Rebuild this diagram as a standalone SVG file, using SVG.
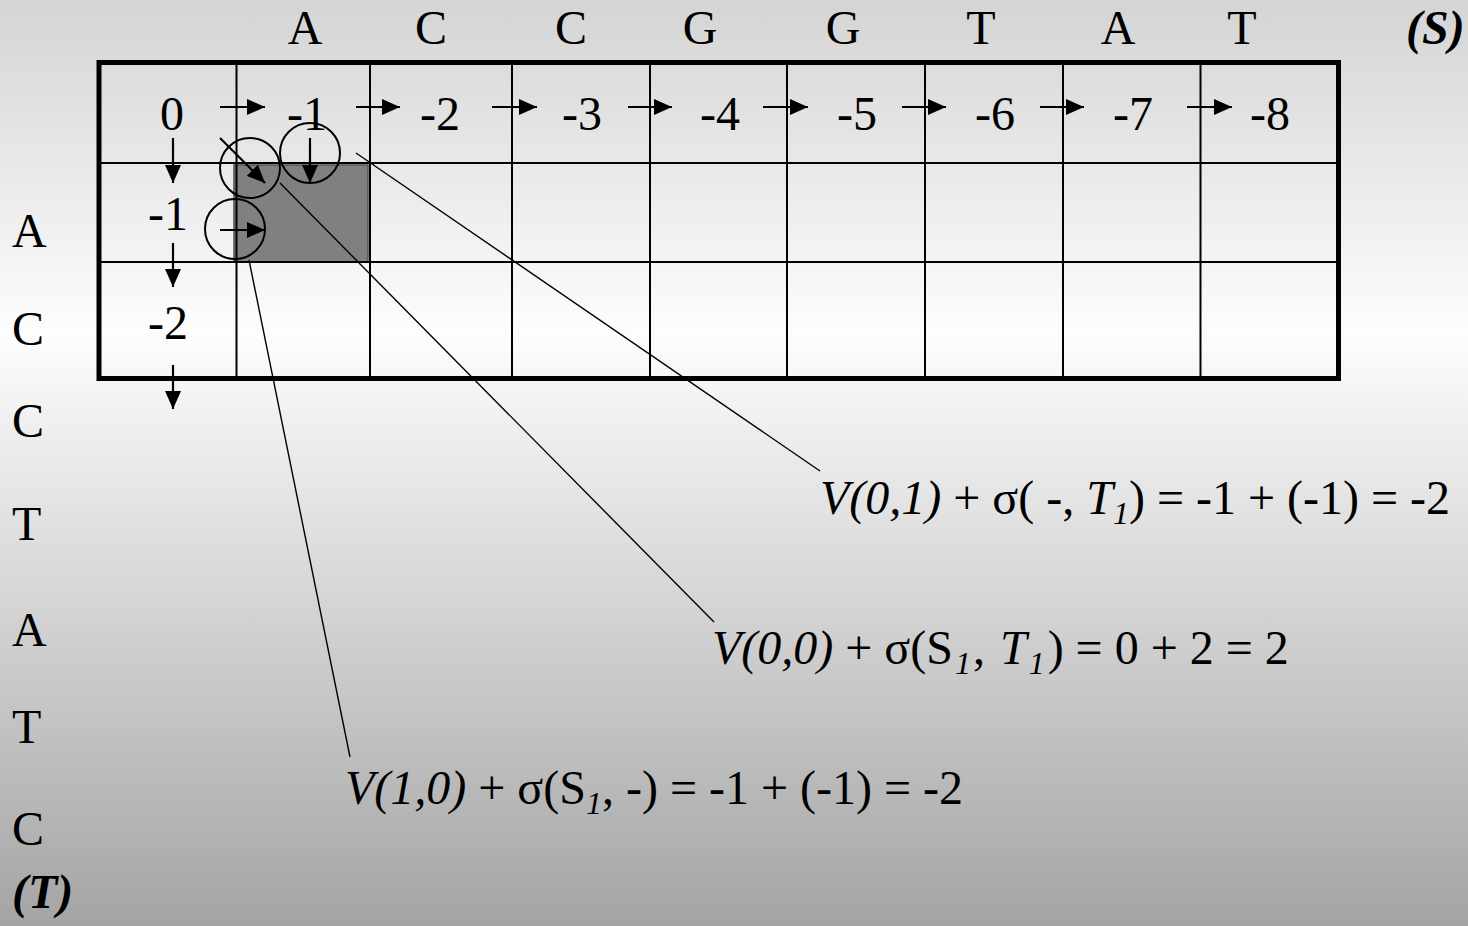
<svg xmlns="http://www.w3.org/2000/svg" width="1468" height="926" viewBox="0 0 1468 926">
<defs>
<linearGradient id="bg" x1="0" y1="0" x2="0" y2="1">
<stop offset="0" stop-color="#d4d4d4"/>
<stop offset="0.36" stop-color="#fdfdfd"/>
<stop offset="1" stop-color="#a4a4a4"/>
</linearGradient>
<marker id="ah" markerUnits="userSpaceOnUse" markerWidth="18" markerHeight="16" refX="18" refY="8" orient="auto">
<path d="M0,0 L18,8 L0,16 Z" fill="#000"/>
</marker>
</defs>
<style>
text{font-family:"Liberation Serif","Times New Roman",serif;font-size:48px;fill:#000}
.it{font-style:italic}
.b{font-weight:bold;font-style:italic}
.sub{font-size:32px;font-style:italic}
.grid{stroke:#000;stroke-width:2;fill:none}
.arr{stroke:#000;stroke-width:2.2;marker-end:url(#ah)}
.conn{stroke:#000;stroke-width:1.4;fill:none}
.circ{stroke:#000;stroke-width:2;fill:none}
</style>
<rect x="0" y="0" width="1468" height="926" fill="url(#bg)"/>

<g id="header-s">
<text x="305" y="44" text-anchor="middle">A</text>
<text x="431" y="44" text-anchor="middle">C</text>
<text x="571" y="44" text-anchor="middle">C</text>
<text x="700" y="44" text-anchor="middle">G</text>
<text x="843" y="44" text-anchor="middle">G</text>
<text x="981" y="44" text-anchor="middle">T</text>
<text x="1118" y="44" text-anchor="middle">A</text>
<text x="1242" y="44" text-anchor="middle">T</text>
<text x="1406" y="44" class="b">(S)</text>
</g>

<g id="header-t">
<text x="12" y="247">A</text>
<text x="12" y="345">C</text>
<text x="12" y="437">C</text>
<text x="12" y="540">T</text>
<text x="12" y="646">A</text>
<text x="12" y="743">T</text>
<text x="12" y="845">C</text>
<text x="12" y="908" class="b">(T)</text>
</g>

<g id="grid">
<rect x="234" y="165" width="134" height="97" fill="#808080" stroke="#505050" stroke-width="1.5"/>
<line class="grid" x1="99" y1="163" x2="1338" y2="163"/>
<line class="grid" x1="99" y1="262" x2="1338" y2="262"/>
<line class="grid" x1="236.5" y1="62" x2="236.5" y2="379"/>
<line class="grid" x1="370" y1="62" x2="370" y2="379"/>
<line class="grid" x1="512" y1="62" x2="512" y2="379"/>
<line class="grid" x1="650" y1="62" x2="650" y2="379"/>
<line class="grid" x1="787" y1="62" x2="787" y2="379"/>
<line class="grid" x1="925" y1="62" x2="925" y2="379"/>
<line class="grid" x1="1063" y1="62" x2="1063" y2="379"/>
<line class="grid" x1="1200.5" y1="62" x2="1200.5" y2="379"/>
<rect x="99" y="62.5" width="1239.5" height="316" fill="none" stroke="#000" stroke-width="5"/>
</g>

<g id="values">
<text x="160" y="130">0</text>
<text x="287" y="130">-1</text>
<text x="420" y="130">-2</text>
<text x="562" y="130">-3</text>
<text x="700" y="130">-4</text>
<text x="837" y="130">-5</text>
<text x="975" y="130">-6</text>
<text x="1113" y="130">-7</text>
<text x="1250" y="130">-8</text>
<text x="148" y="230">-1</text>
<text x="148" y="339">-2</text>
</g>

<g id="arrows">
<line class="arr" x1="220" y1="107" x2="265" y2="107"/>
<line class="arr" x1="356" y1="107" x2="400" y2="107"/>
<line class="arr" x1="492" y1="107" x2="537" y2="107"/>
<line class="arr" x1="628" y1="107" x2="672" y2="107"/>
<line class="arr" x1="763" y1="107" x2="808" y2="107"/>
<line class="arr" x1="902" y1="107" x2="946" y2="107"/>
<line class="arr" x1="1040" y1="107" x2="1084" y2="107"/>
<line class="arr" x1="1187" y1="107" x2="1232" y2="107"/>
<line class="arr" x1="173" y1="138" x2="173" y2="183"/>
<line class="arr" x1="173" y1="243" x2="173" y2="287"/>
<line class="arr" x1="173" y1="365" x2="173" y2="409"/>
<line class="arr" x1="220" y1="138" x2="265" y2="183"/>
<line class="arr" x1="310" y1="138" x2="310" y2="183"/>
<line class="arr" x1="220" y1="230" x2="265" y2="230"/>
</g>

<g id="circles">
<circle class="circ" cx="250" cy="168" r="30"/>
<circle class="circ" cx="310" cy="153" r="30"/>
<circle class="circ" cx="235" cy="229" r="30"/>
</g>

<g id="connectors">
<line class="conn" x1="356" y1="153" x2="820" y2="471"/>
<line class="conn" x1="280" y1="183" x2="714" y2="622"/>
<line class="conn" x1="249" y1="260" x2="350" y2="757"/>
</g>

<g id="formula-top">
<text x="820" y="514"><tspan class="it">V(0,1)</tspan> + σ( -, <tspan class="it">T</tspan><tspan class="sub" dy="10">1</tspan><tspan dy="-10">) = -1 + (-1) = -2</tspan></text>
</g>
<g id="formula-diag">
<text x="712" y="664"><tspan class="it">V(0,0)</tspan> + σ(S<tspan class="sub" dy="10" dx="2">1</tspan><tspan dy="-10" dx="2">, </tspan><tspan class="it" dx="3">T</tspan><tspan class="sub" dy="10" dx="2">1</tspan><tspan dy="-10" dx="3">) = 0 + 2 = 2</tspan></text>
</g>
<g id="formula-left">
<text x="345" y="804"><tspan class="it">V(1,0)</tspan> + σ(S<tspan class="sub" dy="10">1</tspan><tspan dy="-10">, -) = -1 + (-1) = -2</tspan></text>
</g>
</svg>
